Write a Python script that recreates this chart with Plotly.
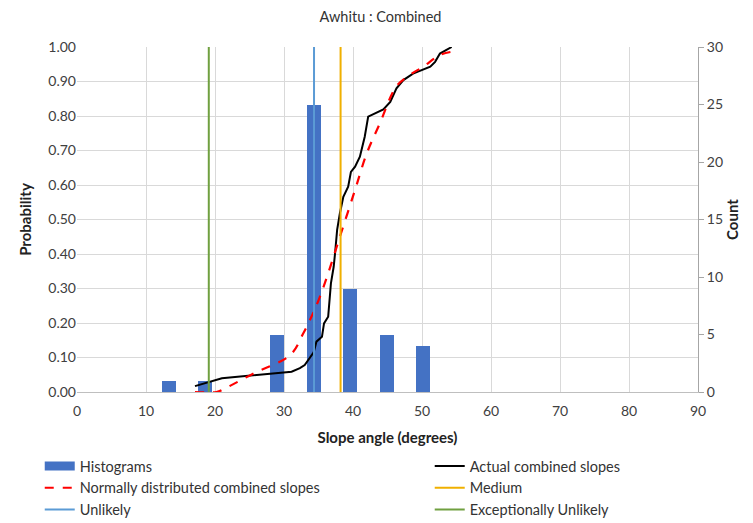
import plotly.graph_objects as go

# Histogram (count, right axis)
bin_centers = [13.3, 18.6, 23.8, 29.0, 34.3, 39.6, 44.9, 50.1]
bin_counts = [1, 1, 0, 5, 25, 9, 5, 4]

# Actual combined slopes (cumulative probability)
actual_x = [17.1, 19.0, 21.0, 31.1, 32.3, 33.0, 34.3, 34.7, 35.5, 35.8, 36.4, 36.8, 37.2, 37.4,
            37.7, 38.1, 38.6, 39.3, 39.7, 40.3, 41.0, 41.7, 42.2, 44.4, 45.4, 46.3, 47.3, 48.7,
            51.2, 51.9, 52.6, 54.3]
actual_p = [0.017, 0.028, 0.040, 0.059, 0.069, 0.078, 0.115, 0.146, 0.160, 0.199, 0.218, 0.315,
            0.363, 0.402, 0.470, 0.518, 0.566, 0.595, 0.638, 0.653, 0.682, 0.740, 0.798, 0.819,
            0.841, 0.880, 0.904, 0.923, 0.943, 0.957, 0.981, 1.000]

# Normally distributed combined slopes
normal_x = [17.1, 20.2, 21.4, 25.6, 30.9, 32.8, 34.2, 35.2, 36.4, 38.1, 40.3, 42.0, 43.9, 46.3,
            48.3, 50.2, 52.6, 54.3]
normal_p = [0.0, 0.0, 0.010, 0.054, 0.107, 0.170, 0.228, 0.276, 0.344, 0.450, 0.586, 0.692,
            0.779, 0.886, 0.920, 0.943, 0.977, 0.986]

medium_x = 38.2
unlikely_x = 34.35
exc_unlikely_x = 19.1

grid_c = "#d9d9d9"
font = "Lato, 'Liberation Sans', sans-serif"
fs = 14
lfs = 14.5
bar_color = "#4472C4"

fig = go.Figure()
fig.add_trace(go.Bar(x=bin_centers, y=bin_counts, width=2.0, name="Histograms", showlegend=False,
                     marker=dict(color=bar_color, line=dict(width=0)), yaxis="y"))
# legend-only entry to get a wide rectangle symbol
fig.add_trace(go.Scatter(x=[None], y=[None], mode="lines", name="Histograms", legend="legend",
                         legendgroup="a", line=dict(color=bar_color, width=9), yaxis="y"))
fig.add_trace(go.Scatter(x=actual_x, y=actual_p, mode="lines", name="Actual combined slopes",
                         legend="legend2", legendgroup="b",
                         line=dict(color="black", width=2), yaxis="y2"))
fig.add_trace(go.Scatter(x=normal_x, y=normal_p, mode="lines", name="Normally distributed combined slopes",
                         legend="legend", legendgroup="c",
                         line=dict(color="#FF0000", width=2.2, dash="dash", shape="spline"), yaxis="y2"))
fig.add_trace(go.Scatter(x=[medium_x, medium_x], y=[0, 1], mode="lines", name="Medium",
                         legend="legend2", legendgroup="d",
                         line=dict(color="#F0B000", width=2), yaxis="y2"))
fig.add_trace(go.Scatter(x=[unlikely_x, unlikely_x], y=[0, 1], mode="lines", name="Unlikely",
                         legend="legend", legendgroup="e",
                         line=dict(color="#5B9BD5", width=2), yaxis="y2"))
fig.add_trace(go.Scatter(x=[exc_unlikely_x, exc_unlikely_x], y=[0, 1], mode="lines", name="Exceptionally Unlikely",
                         legend="legend2", legendgroup="f",
                         line=dict(color="#70A040", width=2), yaxis="y2"))

leg_common = dict(orientation="v", yanchor="top", xanchor="left", tracegroupgap=0,
                  font=dict(size=lfs, color="#333333"), bgcolor="rgba(0,0,0,0)")

fig.update_layout(
    width=745, height=515,
    margin=dict(l=69, r=55, t=39, b=131, autoexpand=False),
    paper_bgcolor="white", plot_bgcolor="white",
    font=dict(family=font, size=fs, color="#404040"),
    title=dict(text="Awhitu : Combined", x=0.5, xanchor="center", y=0.983, yanchor="middle",
               font=dict(size=14.5, color="#333333")),
    showlegend=True,
    bargap=0,
    legend=dict(x=-0.06, y=-0.168, **leg_common),
    legend2=dict(x=0.568, y=-0.168, **leg_common),
    xaxis=dict(range=[0, 90], tickvals=list(range(0, 91, 10)), showgrid=True, gridcolor=grid_c,
               gridwidth=1, zeroline=False, showline=True, linecolor="#bfbfbf", linewidth=1,
               ticks="", ticklabelstandoff=6, tickfont=dict(size=fs, color="#404040"),
               title=dict(text="<b>Slope angle (degrees)</b>", font=dict(size=15, color="#222"), standoff=14)),
    yaxis=dict(range=[0, 30], tickvals=list(range(0, 31, 5)), side="right", showgrid=False,
               zeroline=False, showline=True, linecolor="#a6a6a6", linewidth=1, ticks="outside",
               ticklen=5, tickcolor="#a6a6a6", tickfont=dict(size=fs, color="#404040"),
               title=dict(text="<b>Count</b>", font=dict(size=15, color="#222"), standoff=4)),
    yaxis2=dict(range=[0, 1], tickvals=[i / 10 for i in range(11)], tickformat=".2f", side="left",
                overlaying="y", showgrid=True, gridcolor=grid_c, gridwidth=1, zeroline=False,
                showline=False, ticks="", tickfont=dict(size=fs, color="#404040"),
                title=dict(text="<b>Probability</b>", font=dict(size=15, color="#222"), standoff=13)),
)

fig.write_html("out.html")
